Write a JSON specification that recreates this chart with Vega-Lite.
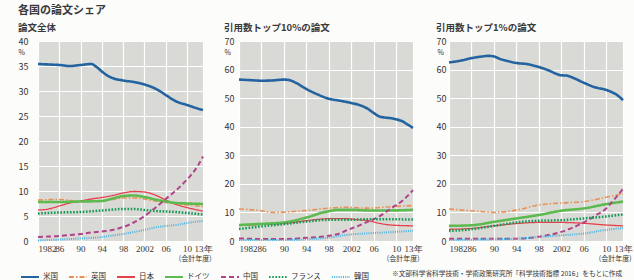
{
  "$schema": "https://vega.github.io/schema/vega-lite/v6.json",
  "padding": {"left": 18, "top": 4, "right": 2, "bottom": 2},
  "background": "#fcfcfa",
  "title": {"text": "各国の論文シェア", "anchor": "start", "frame": "bounds", "fontSize": 11, "fontWeight": "bold", "color": "#3a3a3a", "offset": 7},
  "data": {"values": [
    {"panel":"A","country":"米国","year":1982,"share":35.4},{"panel":"A","country":"米国","year":1984,"share":35.3},{"panel":"A","country":"米国","year":1986,"share":35.2},{"panel":"A","country":"米国","year":1988,"share":35.0},{"panel":"A","country":"米国","year":1990,"share":35.2},{"panel":"A","country":"米国","year":1992,"share":35.4},{"panel":"A","country":"米国","year":1993,"share":34.8},{"panel":"A","country":"米国","year":1994,"share":33.9},{"panel":"A","country":"米国","year":1995,"share":33.1},{"panel":"A","country":"米国","year":1996,"share":32.6},{"panel":"A","country":"米国","year":1998,"share":32.1},{"panel":"A","country":"米国","year":2000,"share":31.8},{"panel":"A","country":"米国","year":2002,"share":31.3},{"panel":"A","country":"米国","year":2004,"share":30.5},{"panel":"A","country":"米国","year":2005,"share":29.9},{"panel":"A","country":"米国","year":2006,"share":29.2},{"panel":"A","country":"米国","year":2008,"share":27.9},{"panel":"A","country":"米国","year":2010,"share":27.2},{"panel":"A","country":"米国","year":2012,"share":26.5},{"panel":"A","country":"米国","year":2013,"share":26.2},
    {"panel":"A","country":"英国","year":1982,"share":8.2},{"panel":"A","country":"英国","year":1986,"share":8.3},{"panel":"A","country":"英国","year":1990,"share":7.9},{"panel":"A","country":"英国","year":1994,"share":8.0},{"panel":"A","country":"英国","year":1996,"share":8.3},{"panel":"A","country":"英国","year":1998,"share":8.6},{"panel":"A","country":"英国","year":2000,"share":8.6},{"panel":"A","country":"英国","year":2002,"share":8.4},{"panel":"A","country":"英国","year":2004,"share":8.0},{"panel":"A","country":"英国","year":2006,"share":7.7},{"panel":"A","country":"英国","year":2008,"share":7.4},{"panel":"A","country":"英国","year":2010,"share":7.2},{"panel":"A","country":"英国","year":2013,"share":6.9},
    {"panel":"A","country":"日本","year":1982,"share":6.2},{"panel":"A","country":"日本","year":1984,"share":6.4},{"panel":"A","country":"日本","year":1986,"share":7.0},{"panel":"A","country":"日本","year":1988,"share":7.6},{"panel":"A","country":"日本","year":1990,"share":8.0},{"panel":"A","country":"日本","year":1992,"share":8.4},{"panel":"A","country":"日本","year":1994,"share":8.7},{"panel":"A","country":"日本","year":1996,"share":9.1},{"panel":"A","country":"日本","year":1998,"share":9.6},{"panel":"A","country":"日本","year":2000,"share":9.9},{"panel":"A","country":"日本","year":2002,"share":9.8},{"panel":"A","country":"日本","year":2004,"share":9.2},{"panel":"A","country":"日本","year":2006,"share":8.2},{"panel":"A","country":"日本","year":2008,"share":7.3},{"panel":"A","country":"日本","year":2010,"share":6.7},{"panel":"A","country":"日本","year":2012,"share":6.2},{"panel":"A","country":"日本","year":2013,"share":6.0},
    {"panel":"A","country":"ドイツ","year":1982,"share":7.8},{"panel":"A","country":"ドイツ","year":1986,"share":7.8},{"panel":"A","country":"ドイツ","year":1990,"share":7.9},{"panel":"A","country":"ドイツ","year":1994,"share":8.0},{"panel":"A","country":"ドイツ","year":1996,"share":8.5},{"panel":"A","country":"ドイツ","year":1998,"share":9.0},{"panel":"A","country":"ドイツ","year":2000,"share":9.1},{"panel":"A","country":"ドイツ","year":2002,"share":8.8},{"panel":"A","country":"ドイツ","year":2004,"share":8.3},{"panel":"A","country":"ドイツ","year":2006,"share":7.9},{"panel":"A","country":"ドイツ","year":2008,"share":7.6},{"panel":"A","country":"ドイツ","year":2010,"share":7.5},{"panel":"A","country":"ドイツ","year":2013,"share":7.4},
    {"panel":"A","country":"中国","year":1982,"share":0.8},{"panel":"A","country":"中国","year":1984,"share":0.9},{"panel":"A","country":"中国","year":1986,"share":1.0},{"panel":"A","country":"中国","year":1988,"share":1.2},{"panel":"A","country":"中国","year":1990,"share":1.4},{"panel":"A","country":"中国","year":1992,"share":1.7},{"panel":"A","country":"中国","year":1994,"share":1.9},{"panel":"A","country":"中国","year":1996,"share":2.2},{"panel":"A","country":"中国","year":1998,"share":2.8},{"panel":"A","country":"中国","year":2000,"share":3.7},{"panel":"A","country":"中国","year":2002,"share":5.0},{"panel":"A","country":"中国","year":2004,"share":6.6},{"panel":"A","country":"中国","year":2006,"share":8.4},{"panel":"A","country":"中国","year":2008,"share":10.2},{"panel":"A","country":"中国","year":2010,"share":12.3},{"panel":"A","country":"中国","year":2011,"share":13.5},{"panel":"A","country":"中国","year":2012,"share":15.0},{"panel":"A","country":"中国","year":2013,"share":16.9},
    {"panel":"A","country":"フランス","year":1982,"share":5.5},{"panel":"A","country":"フランス","year":1986,"share":5.7},{"panel":"A","country":"フランス","year":1990,"share":5.8},{"panel":"A","country":"フランス","year":1994,"share":6.1},{"panel":"A","country":"フランス","year":1998,"share":6.4},{"panel":"A","country":"フランス","year":2000,"share":6.4},{"panel":"A","country":"フランス","year":2002,"share":6.2},{"panel":"A","country":"フランス","year":2004,"share":6.0},{"panel":"A","country":"フランス","year":2006,"share":5.9},{"panel":"A","country":"フランス","year":2008,"share":5.8},{"panel":"A","country":"フランス","year":2010,"share":5.6},{"panel":"A","country":"フランス","year":2013,"share":5.3},
    {"panel":"A","country":"韓国","year":1982,"share":0.1},{"panel":"A","country":"韓国","year":1986,"share":0.3},{"panel":"A","country":"韓国","year":1990,"share":0.5},{"panel":"A","country":"韓国","year":1994,"share":0.8},{"panel":"A","country":"韓国","year":1996,"share":1.1},{"panel":"A","country":"韓国","year":1998,"share":1.4},{"panel":"A","country":"韓国","year":2000,"share":1.8},{"panel":"A","country":"韓国","year":2002,"share":2.2},{"panel":"A","country":"韓国","year":2004,"share":2.7},{"panel":"A","country":"韓国","year":2006,"share":3.0},{"panel":"A","country":"韓国","year":2008,"share":3.2},{"panel":"A","country":"韓国","year":2010,"share":3.6},{"panel":"A","country":"韓国","year":2012,"share":3.9},{"panel":"A","country":"韓国","year":2013,"share":4.0},

    {"panel":"B","country":"米国","year":1982,"share":56.5},{"panel":"B","country":"米国","year":1984,"share":56.3},{"panel":"B","country":"米国","year":1986,"share":56.1},{"panel":"B","country":"米国","year":1988,"share":56.2},{"panel":"B","country":"米国","year":1990,"share":56.5},{"panel":"B","country":"米国","year":1991,"share":56.3},{"panel":"B","country":"米国","year":1992,"share":55.5},{"panel":"B","country":"米国","year":1994,"share":53.2},{"panel":"B","country":"米国","year":1996,"share":51.3},{"panel":"B","country":"米国","year":1998,"share":49.8},{"panel":"B","country":"米国","year":2000,"share":49.1},{"panel":"B","country":"米国","year":2002,"share":48.3},{"panel":"B","country":"米国","year":2004,"share":47.2},{"panel":"B","country":"米国","year":2005,"share":46.2},{"panel":"B","country":"米国","year":2006,"share":44.8},{"panel":"B","country":"米国","year":2007,"share":43.6},{"panel":"B","country":"米国","year":2008,"share":43.2},{"panel":"B","country":"米国","year":2009,"share":43.0},{"panel":"B","country":"米国","year":2010,"share":42.6},{"panel":"B","country":"米国","year":2011,"share":42.0},{"panel":"B","country":"米国","year":2012,"share":40.8},{"panel":"B","country":"米国","year":2013,"share":39.6},
    {"panel":"B","country":"英国","year":1982,"share":11.2},{"panel":"B","country":"英国","year":1986,"share":10.6},{"panel":"B","country":"英国","year":1988,"share":10.0},{"panel":"B","country":"英国","year":1990,"share":10.1},{"panel":"B","country":"英国","year":1994,"share":10.7},{"panel":"B","country":"英国","year":1998,"share":11.5},{"panel":"B","country":"英国","year":2001,"share":11.8},{"panel":"B","country":"英国","year":2005,"share":11.5},{"panel":"B","country":"英国","year":2009,"share":12.0},{"panel":"B","country":"英国","year":2013,"share":12.4},
    {"panel":"B","country":"日本","year":1982,"share":5.4},{"panel":"B","country":"日本","year":1986,"share":5.8},{"panel":"B","country":"日本","year":1990,"share":6.1},{"panel":"B","country":"日本","year":1994,"share":7.1},{"panel":"B","country":"日本","year":1998,"share":7.8},{"panel":"B","country":"日本","year":2001,"share":7.8},{"panel":"B","country":"日本","year":2003,"share":7.5},{"panel":"B","country":"日本","year":2005,"share":7.1},{"panel":"B","country":"日本","year":2007,"share":6.2},{"panel":"B","country":"日本","year":2009,"share":5.6},{"panel":"B","country":"日本","year":2013,"share":5.3},
    {"panel":"B","country":"ドイツ","year":1982,"share":5.6},{"panel":"B","country":"ドイツ","year":1986,"share":6.0},{"panel":"B","country":"ドイツ","year":1990,"share":6.5},{"panel":"B","country":"ドイツ","year":1994,"share":8.2},{"panel":"B","country":"ドイツ","year":1997,"share":10.0},{"panel":"B","country":"ドイツ","year":2000,"share":10.9},{"panel":"B","country":"ドイツ","year":2002,"share":10.9},{"panel":"B","country":"ドイツ","year":2005,"share":10.7},{"panel":"B","country":"ドイツ","year":2009,"share":10.7},{"panel":"B","country":"ドイツ","year":2013,"share":10.9},
    {"panel":"B","country":"中国","year":1982,"share":0.9},{"panel":"B","country":"中国","year":1986,"share":0.7},{"panel":"B","country":"中国","year":1990,"share":0.7},{"panel":"B","country":"中国","year":1994,"share":1.1},{"panel":"B","country":"中国","year":1998,"share":1.8},{"panel":"B","country":"中国","year":2000,"share":2.7},{"panel":"B","country":"中国","year":2001,"share":3.6},{"panel":"B","country":"中国","year":2003,"share":5.1},{"panel":"B","country":"中国","year":2005,"share":6.8},{"panel":"B","country":"中国","year":2007,"share":8.6},{"panel":"B","country":"中国","year":2009,"share":11.3},{"panel":"B","country":"中国","year":2011,"share":13.9},{"panel":"B","country":"中国","year":2013,"share":17.8},
    {"panel":"B","country":"フランス","year":1982,"share":4.2},{"panel":"B","country":"フランス","year":1986,"share":5.1},{"panel":"B","country":"フランス","year":1990,"share":5.9},{"panel":"B","country":"フランス","year":1994,"share":6.8},{"panel":"B","country":"フランス","year":1998,"share":7.4},{"panel":"B","country":"フランス","year":2001,"share":7.4},{"panel":"B","country":"フランス","year":2005,"share":7.6},{"panel":"B","country":"フランス","year":2009,"share":7.6},{"panel":"B","country":"フランス","year":2013,"share":7.5},
    {"panel":"B","country":"韓国","year":1982,"share":0.35},{"panel":"B","country":"韓国","year":1990,"share":0.35},{"panel":"B","country":"韓国","year":1994,"share":0.6},{"panel":"B","country":"韓国","year":1998,"share":1.2},{"panel":"B","country":"韓国","year":2001,"share":2.1},{"panel":"B","country":"韓国","year":2005,"share":2.7},{"panel":"B","country":"韓国","year":2009,"share":3.1},{"panel":"B","country":"韓国","year":2013,"share":3.6},

    {"panel":"C","country":"米国","year":1982,"share":62.5},{"panel":"C","country":"米国","year":1984,"share":63.1},{"panel":"C","country":"米国","year":1986,"share":64.0},{"panel":"C","country":"米国","year":1988,"share":64.6},{"panel":"C","country":"米国","year":1989,"share":64.8},{"panel":"C","country":"米国","year":1990,"share":64.6},{"panel":"C","country":"米国","year":1991,"share":63.8},{"panel":"C","country":"米国","year":1992,"share":63.2},{"panel":"C","country":"米国","year":1994,"share":62.3},{"panel":"C","country":"米国","year":1996,"share":61.9},{"panel":"C","country":"米国","year":1998,"share":60.9},{"panel":"C","country":"米国","year":2000,"share":59.5},{"panel":"C","country":"米国","year":2001,"share":58.6},{"panel":"C","country":"米国","year":2002,"share":58.0},{"panel":"C","country":"米国","year":2003,"share":57.9},{"panel":"C","country":"米国","year":2004,"share":57.2},{"panel":"C","country":"米国","year":2006,"share":55.4},{"panel":"C","country":"米国","year":2008,"share":53.8},{"panel":"C","country":"米国","year":2010,"share":52.9},{"panel":"C","country":"米国","year":2011,"share":52.1},{"panel":"C","country":"米国","year":2012,"share":51.0},{"panel":"C","country":"米国","year":2013,"share":49.3},
    {"panel":"C","country":"英国","year":1982,"share":11.2},{"panel":"C","country":"英国","year":1986,"share":10.6},{"panel":"C","country":"英国","year":1990,"share":10.0},{"panel":"C","country":"英国","year":1994,"share":10.8},{"panel":"C","country":"英国","year":1998,"share":12.6},{"panel":"C","country":"英国","year":2002,"share":13.3},{"panel":"C","country":"英国","year":2006,"share":13.8},{"panel":"C","country":"英国","year":2010,"share":15.3},{"panel":"C","country":"英国","year":2013,"share":16.6},
    {"panel":"C","country":"日本","year":1982,"share":4.1},{"panel":"C","country":"日本","year":1986,"share":4.4},{"panel":"C","country":"日本","year":1990,"share":5.3},{"panel":"C","country":"日本","year":1994,"share":6.1},{"panel":"C","country":"日本","year":1998,"share":6.5},{"panel":"C","country":"日本","year":2002,"share":6.5},{"panel":"C","country":"日本","year":2006,"share":6.2},{"panel":"C","country":"日本","year":2010,"share":5.6},{"panel":"C","country":"日本","year":2013,"share":5.3},
    {"panel":"C","country":"ドイツ","year":1982,"share":5.3},{"panel":"C","country":"ドイツ","year":1986,"share":5.5},{"panel":"C","country":"ドイツ","year":1990,"share":6.7},{"panel":"C","country":"ドイツ","year":1994,"share":7.9},{"panel":"C","country":"ドイツ","year":1998,"share":9.1},{"panel":"C","country":"ドイツ","year":2002,"share":10.6},{"panel":"C","country":"ドイツ","year":2006,"share":11.4},{"panel":"C","country":"ドイツ","year":2010,"share":12.9},{"panel":"C","country":"ドイツ","year":2013,"share":13.8},
    {"panel":"C","country":"中国","year":1982,"share":0.8},{"panel":"C","country":"中国","year":1990,"share":0.8},{"panel":"C","country":"中国","year":1994,"share":0.8},{"panel":"C","country":"中国","year":1998,"share":1.5},{"panel":"C","country":"中国","year":2002,"share":3.2},{"panel":"C","country":"中国","year":2006,"share":6.5},{"panel":"C","country":"中国","year":2008,"share":8.8},{"panel":"C","country":"中国","year":2010,"share":11.4},{"panel":"C","country":"中国","year":2011,"share":13.6},{"panel":"C","country":"中国","year":2012,"share":15.8},{"panel":"C","country":"中国","year":2013,"share":18.3},
    {"panel":"C","country":"フランス","year":1982,"share":3.5},{"panel":"C","country":"フランス","year":1986,"share":4.1},{"panel":"C","country":"フランス","year":1990,"share":5.3},{"panel":"C","country":"フランス","year":1994,"share":6.5},{"panel":"C","country":"フランス","year":1998,"share":7.1},{"panel":"C","country":"フランス","year":2002,"share":7.3},{"panel":"C","country":"フランス","year":2006,"share":7.9},{"panel":"C","country":"フランス","year":2010,"share":8.6},{"panel":"C","country":"フランス","year":2013,"share":9.3},
    {"panel":"C","country":"韓国","year":1982,"share":0.35},{"panel":"C","country":"韓国","year":1990,"share":0.6},{"panel":"C","country":"韓国","year":1994,"share":0.8},{"panel":"C","country":"韓国","year":1998,"share":1.4},{"panel":"C","country":"韓国","year":2002,"share":2.0},{"panel":"C","country":"韓国","year":2006,"share":2.6},{"panel":"C","country":"韓国","year":2010,"share":3.9},{"panel":"C","country":"韓国","year":2013,"share":4.5}
  ]},
  "bounds": "flush",
  "spacing": 36,
  "resolve": {"scale": {"color": "shared", "strokeDash": "shared", "x": "independent", "y": "independent"}},
  "hconcat": [
    {
      "width": 165, "height": 200,
      "title": {"text": "論文全体", "anchor": "start", "frame": "bounds", "fontSize": 9.5, "fontWeight": "bold", "color": "#3a3a3a", "offset": 5},
      "transform": [{"filter": "datum.panel === 'A'"}],
      "mark": {"type": "line", "interpolate": "monotone"},
      "encoding": {
        "x": {"field": "year", "type": "quantitative", "scale": {"domain": [1982, 2013], "nice": false, "zero": false},
          "axis": {"values": [1982, 1986, 1990, 1994, 1998, 2002, 2006, 2010, 2013], "format": "d",
            "labelExpr": "datum.value == 1982 || datum.value == 2002 ? datum.label : datum.value == 2013 ? '13年' : slice(datum.label, 2)",
            "labelAlign": {"condition": {"test": "datum.value == 1982", "value": "left"}, "value": "center"},
            "labelFont": "Liberation Sans Narrow", "labelFontSize": 9, "labelPadding": 3, "title": "(会計年度)", "titleAnchor": "end", "titleAlign": "right", "titleX": 173, "titleFontSize": 7, "titleFontWeight": "normal", "titlePadding": 1}},
        "y": {"field": "share", "type": "quantitative", "scale": {"domain": [0, 40], "nice": false},
          "axis": {"values": [0, 5, 10, 15, 20, 25, 30, 35, 40], "labelPadding": 10, "title": "%", "titleAngle": 0, "titleAlign": "left", "titleBaseline": "top", "titleX": -20, "titleY": 7, "titleFontSize": 7, "titleFontWeight": "normal"}},
        "color": {"field": "country", "type": "nominal", "title": "※文部科学省科学技術・学術政策研究所「科学技術指標 2016」をもとに作成",
          "scale": {"domain": ["米国", "英国", "日本", "ドイツ", "中国", "フランス", "韓国"], "range": ["#23639f", "#e8925a", "#e5414b", "#5dba4f", "#b0438a", "#149a57", "#4db3e0"]},
          "legend": {"orient": "none", "legendX": -18, "legendY": 226, "direction": "horizontal", "symbolType": "stroke", "symbolSize": 324, "symbolStrokeWidth": 2, "labelFontSize": 7.5, "labelColor": "#333333", "labelOffset": 3, "columnPadding": 7, "titleOrient": "right", "titleFontSize": 6.7, "titleFontWeight": "normal", "titleColor": "#333333", "titlePadding": 23, "titleLimit": 400}},
        "strokeDash": {"field": "country", "type": "nominal", "title": "※文部科学省科学技術・学術政策研究所「科学技術指標 2016」をもとに作成",
          "scale": {"domain": ["米国", "英国", "日本", "ドイツ", "中国", "フランス", "韓国"], "range": [[1, 0], [5, 2, 1.5, 2], [1, 0], [1, 0], [5, 3], [1.6, 1.6], [1, 1.2]]}},
        "strokeWidth": {"condition": [{"test": "datum.country === '米国' || datum.country === 'ドイツ'", "value": 2.6}, {"test": "datum.country === 'フランス'", "value": 2.5}, {"test": "datum.country === '日本'", "value": 1.3}, {"test": "datum.country === '英国'", "value": 1.6}], "value": 2.0}
      }
    },
    {
      "width": 174, "height": 200,
      "title": {"text": "引用数トップ10%の論文", "anchor": "start", "frame": "bounds", "fontSize": 9.5, "fontWeight": "bold", "color": "#3a3a3a", "offset": 5},
      "transform": [{"filter": "datum.panel === 'B'"}],
      "mark": {"type": "line", "interpolate": "monotone"},
      "encoding": {
        "x": {"field": "year", "type": "quantitative", "scale": {"domain": [1982, 2013], "nice": false, "zero": false},
          "axis": {"values": [1982, 1986, 1990, 1994, 1998, 2002, 2006, 2010, 2013], "format": "d",
            "labelExpr": "datum.value == 1982 || datum.value == 2002 ? datum.label : datum.value == 2013 ? '13年' : slice(datum.label, 2)",
            "labelAlign": {"condition": {"test": "datum.value == 1982", "value": "left"}, "value": "center"},
            "labelFont": "Liberation Sans Narrow", "labelFontSize": 9, "labelPadding": 3, "title": "(会計年度)", "titleAnchor": "end", "titleAlign": "right", "titleX": 180, "titleFontSize": 7, "titleFontWeight": "normal", "titlePadding": 1}},
        "y": {"field": "share", "type": "quantitative", "scale": {"domain": [0, 70], "nice": false},
          "axis": {"values": [0, 10, 20, 30, 40, 50, 60, 70], "labelPadding": 5, "title": "%", "titleAngle": 0, "titleAlign": "left", "titleBaseline": "top", "titleX": -15, "titleY": 7, "titleFontSize": 7, "titleFontWeight": "normal"}},
        "color": {"field": "country", "type": "nominal", "title": "※文部科学省科学技術・学術政策研究所「科学技術指標 2016」をもとに作成"},
        "strokeDash": {"field": "country", "type": "nominal", "title": "※文部科学省科学技術・学術政策研究所「科学技術指標 2016」をもとに作成"},
        "strokeWidth": {"condition": [{"test": "datum.country === '米国' || datum.country === 'ドイツ'", "value": 2.6}, {"test": "datum.country === 'フランス'", "value": 2.5}, {"test": "datum.country === '日本'", "value": 1.3}, {"test": "datum.country === '英国'", "value": 1.6}], "value": 2.0}
      }
    },
    {
      "width": 174, "height": 200,
      "title": {"text": "引用数トップ1%の論文", "anchor": "start", "frame": "bounds", "fontSize": 9.5, "fontWeight": "bold", "color": "#3a3a3a", "offset": 5},
      "transform": [{"filter": "datum.panel === 'C'"}],
      "mark": {"type": "line", "interpolate": "monotone"},
      "encoding": {
        "x": {"field": "year", "type": "quantitative", "scale": {"domain": [1982, 2013], "nice": false, "zero": false},
          "axis": {"values": [1982, 1986, 1990, 1994, 1998, 2002, 2006, 2010, 2013], "format": "d",
            "labelExpr": "datum.value == 1982 || datum.value == 2002 ? datum.label : datum.value == 2013 ? '13年' : slice(datum.label, 2)",
            "labelAlign": {"condition": {"test": "datum.value == 1982", "value": "left"}, "value": "center"},
            "labelFont": "Liberation Sans Narrow", "labelFontSize": 9, "labelPadding": 3, "title": "(会計年度)", "titleAnchor": "end", "titleAlign": "right", "titleX": 182, "titleFontSize": 7, "titleFontWeight": "normal", "titlePadding": 1}},
        "y": {"field": "share", "type": "quantitative", "scale": {"domain": [0, 70], "nice": false},
          "axis": {"values": [0, 10, 20, 30, 40, 50, 60, 70], "labelPadding": 3, "title": "%", "titleAngle": 0, "titleAlign": "left", "titleBaseline": "top", "titleX": -12, "titleY": 7, "titleFontSize": 7, "titleFontWeight": "normal"}},
        "color": {"field": "country", "type": "nominal", "title": "※文部科学省科学技術・学術政策研究所「科学技術指標 2016」をもとに作成"},
        "strokeDash": {"field": "country", "type": "nominal", "title": "※文部科学省科学技術・学術政策研究所「科学技術指標 2016」をもとに作成"},
        "strokeWidth": {"condition": [{"test": "datum.country === '米国' || datum.country === 'ドイツ'", "value": 2.6}, {"test": "datum.country === 'フランス'", "value": 2.5}, {"test": "datum.country === '日本'", "value": 1.3}, {"test": "datum.country === '英国'", "value": 1.6}], "value": 2.0}
      }
    }
  ],
  "config": {
    "font": "Noto Sans CJK JP",
    "view": {"fill": "#d9d9d5", "stroke": null},
    "axis": {"grid": true, "gridColor": "#ffffff", "gridWidth": 1.2, "domain": false, "ticks": false, "tickSize": 0, "labelFontSize": 9, "labelColor": "#333333", "titleColor": "#333333", "labelOverlap": false}
  }
}
